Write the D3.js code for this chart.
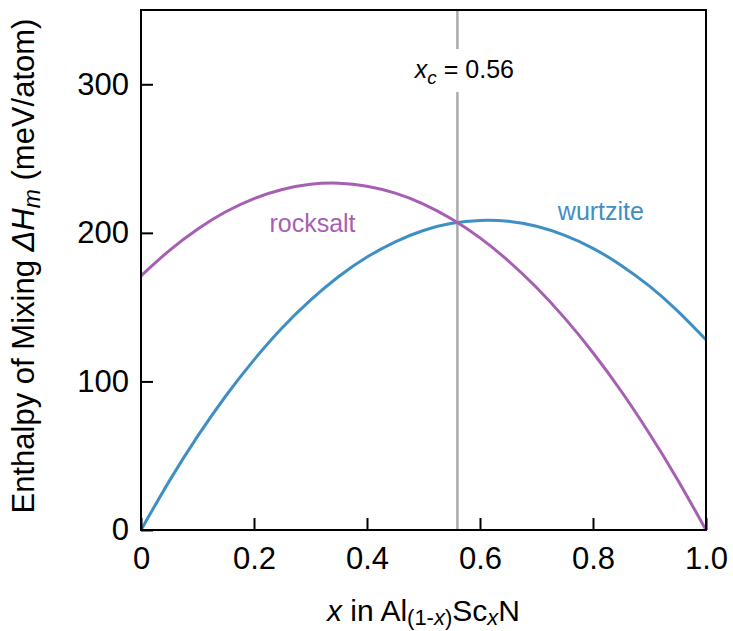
<!DOCTYPE html>
<html>
<head>
<meta charset="utf-8">
<script src="https://cdn.jsdelivr.net/npm/d3@7"></script>
<style>
  html, body { margin: 0; padding: 0; background: #fff; }
  svg { display: block; font-family: "Liberation Sans", Arial, Helvetica, sans-serif; }
</style>
</head>
<body>
<svg id="chart" width="733" height="631"></svg>
<script>
// ---- data ----
const xValues = [0, 0.05, 0.1, 0.15, 0.2, 0.25, 0.3, 0.35, 0.4, 0.45, 0.5, 0.55, 0.6, 0.65, 0.7, 0.75, 0.8, 0.85, 0.9, 0.95, 1.0];
const rocksalt = [171, 188.1, 202.5, 214.2, 223.1, 229.2, 232.7, 233.4, 231.4, 226.7, 219.4, 209.3, 196.6, 181.2, 163.2, 142.6, 119.3, 93.4, 64.8, 33.7, 0];
const wurtzite = [0, 32.9, 63.0, 90.2, 114.5, 136.1, 154.7, 170.6, 183.7, 194.0, 201.6, 206.4, 208.4, 207.8, 204.4, 198.3, 189.6, 178.1, 164.1, 147.3, 128];
const xTicks = [0, 0.2, 0.4, 0.6, 0.8, 1.0];
const xTickLabels = ["0", "0.2", "0.4", "0.6", "0.8", "1.0"];
const yTicks = [0, 100, 200, 300];
const xCritical = 0.56;
const seriesLabels = [
  { name: "rocksalt", x: 0.3035, y: 200.6, color: "#a65fb3" },
  { name: "wurtzite", x: 0.814, y: 208.7, color: "#3f8fc5" }
];

// ---- layout ----
const svg = d3.select("#chart");
const margin = { left: 141, top: 10, right: 27, bottom: 101 };
const W = 733 - margin.left - margin.right;
const H = 631 - margin.top - margin.bottom;
const g = svg.append("g").attr("transform", `translate(${margin.left},${margin.top})`);

const x = d3.scaleLinear().domain([0, 1]).range([0, W]);
const y = d3.scaleLinear().domain([0, 350]).range([H, 0]);

// critical vertical line
g.append("line")
  .attr("x1", x(xCritical)).attr("x2", x(xCritical))
  .attr("y1", 0).attr("y2", H)
  .attr("stroke", "#aaaaaa").attr("stroke-width", 2.5);

// curves
const line = d3.line().x(d => x(d[0])).y(d => y(d[1])).curve(d3.curveNatural);
g.append("path")
  .datum(xValues.map((v, i) => [v, wurtzite[i]]))
  .attr("d", line).attr("fill", "none")
  .attr("stroke", "#3f8fc5").attr("stroke-width", 3);
g.append("path")
  .datum(xValues.map((v, i) => [v, rocksalt[i]]))
  .attr("d", line).attr("fill", "none")
  .attr("stroke", "#a65fb3").attr("stroke-width", 3);

// critical label with white background
const lab = g.append("g");
const labText = lab.append("text")
  .attr("x", x(xCritical) + 7).attr("y", y(304.2))
  .attr("text-anchor", "middle")
  .attr("font-size", 25).attr("fill", "#000");
labText.append("tspan").attr("font-style", "italic").text("x");
labText.append("tspan").attr("font-style", "italic").attr("font-size", 19).attr("dy", 6).text("c");
labText.append("tspan").attr("dy", -6).text(" = 0.56");
const bb = labText.node().getBBox();
lab.insert("rect", "text")
  .attr("x", bb.x - 2).attr("y", bb.y - 6)
  .attr("width", bb.width + 4).attr("height", bb.height + 10)
  .attr("fill", "#fff");

// series labels
seriesLabels.forEach(s => {
  g.append("text")
    .attr("x", x(s.x)).attr("y", y(s.y))
    .attr("text-anchor", "middle")
    .attr("font-size", 25).attr("fill", s.color)
    .text(s.name);
});

// frame
g.append("rect").attr("x", 0).attr("y", 0).attr("width", W).attr("height", H)
  .attr("fill", "none").attr("stroke", "#000").attr("stroke-width", 2);

// axes
const xAxis = d3.axisBottom(x).tickValues(xTicks)
  .tickFormat((d, i) => xTickLabels[i]).tickSizeInner(-12).tickSizeOuter(0).tickPadding(17);
const gx = g.append("g").attr("transform", `translate(0,${H})`).call(xAxis);
gx.select(".domain").remove();
gx.selectAll(".tick line").attr("stroke", "#000").attr("stroke-width", 2);
gx.selectAll(".tick text").attr("font-size", 31).attr("fill", "#000")
  .attr("font-family", "'Liberation Sans', Arial, Helvetica, sans-serif");

const yAxis = d3.axisLeft(y).tickValues(yTicks).tickSizeInner(-12).tickSizeOuter(0).tickPadding(12);
const gy = g.append("g").call(yAxis);
gy.select(".domain").remove();
gy.selectAll(".tick line").attr("stroke", "#000").attr("stroke-width", 2);
gy.selectAll(".tick text").attr("font-size", 31).attr("fill", "#000")
  .attr("font-family", "'Liberation Sans', Arial, Helvetica, sans-serif");

// x axis title
const xt = svg.append("text")
  .attr("x", margin.left + W / 2).attr("y", 621)
  .attr("text-anchor", "middle").attr("font-size", 30).attr("fill", "#000");
xt.append("tspan").attr("font-style", "italic").text("x");
xt.append("tspan").text(" in Al");
xt.append("tspan").attr("font-size", 22).attr("dy", 4).text("(1-");
xt.append("tspan").attr("font-size", 22).attr("font-style", "italic").text("x");
xt.append("tspan").attr("font-size", 22).text(")");
xt.append("tspan").attr("dy", -4).text("Sc");
xt.append("tspan").attr("font-size", 22).attr("font-style", "italic").attr("dy", 4).text("x");
xt.append("tspan").attr("dy", -4).text("N");

// y axis title
const yt = svg.append("text")
  .attr("transform", `translate(34,${margin.top + H / 2 - 4}) rotate(-90)`)
  .attr("text-anchor", "middle").attr("font-size", 31).attr("fill", "#000");
yt.append("tspan").text("Enthalpy of Mixing ");
yt.append("tspan").attr("font-style", "italic").text("ΔH");
yt.append("tspan").attr("font-style", "italic").attr("font-size", 23).attr("dy", 6).text("m");
yt.append("tspan").attr("dy", -6).text(" (meV/atom)");
</script>
</body>
</html>
